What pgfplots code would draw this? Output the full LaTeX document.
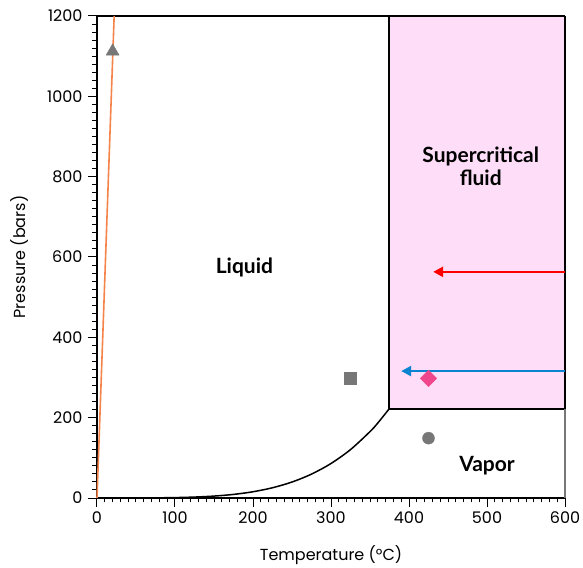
\documentclass[border=0pt]{standalone}
\usepackage{pgfplots}
\pgfplotsset{compat=1.18}
\usepackage{fontspec}
\setmainfont{Lato}
\newfontfamily\tickfont{Poppins}
\usetikzlibrary{arrows.meta}
\definecolor{scpink}{HTML}{FDDDF7}
\definecolor{meltorange}{HTML}{F5844A}
\definecolor{arrred}{HTML}{FF0000}
\definecolor{arrblue}{HTML}{0A84D0}
\definecolor{dpink}{HTML}{F0468C}
\definecolor{mgray}{HTML}{777777}
\begin{document}
\begin{tikzpicture}[x=1pt,y=1pt]
\useasboundingbox (-97,-69) rectangle (486,498);
\begin{axis}[
  at={(0,0)}, anchor=south west,
  scale only axis, width=468pt, height=482pt,
  xmin=0, xmax=600, ymin=0, ymax=1200,
  xtick={0,100,...,600}, ytick={0,200,...,1200},
  minor x tick num=9, minor y tick num=9,
  tick align=outside, tick pos=left,
  major tick length=9pt, minor tick length=4.5pt,
  every tick/.style={black, line width=1pt},
  axis line style={line width=1.3pt},
  axis x line*=bottom, axis y line*=left,
  tick label style={font=\tickfont\fontsize{16}{18}\selectfont},
  xticklabel style={yshift=-1pt},
  yticklabel style={xshift=-2pt},
  label style={font=\tickfont\fontsize{16}{18}\selectfont},
  /pgf/number format/assume math mode=true,
  /pgf/number format/1000 sep={},
  xlabel={Temperature (°C)}, ylabel={Pressure (bars)},
  xlabel style={at={(axis description cs:0.5,-0.118)}, anchor=center},
  ylabel style={at={(axis description cs:-0.1645,0.5)}, anchor=center},
  clip=false,
]
% supercritical region
\addplot[fill=scpink, draw=none] coordinates {(374,221) (600,221) (600,1200) (374,1200)} -- cycle;
\addplot[black, line width=1.8pt] coordinates {(374,1200) (374,221) (600,221)};
% frame top and right
\addplot[black, line width=1.3pt] coordinates {(0,1200) (600,1200)};
\addplot[black, line width=1.6pt] coordinates {(600,1200) (600,221)};
\addplot[mgray, line width=1.3pt] coordinates {(600,221) (600,0)};
% vapor pressure curve
\addplot[black, line width=1.5pt, smooth] coordinates {
(0,0.006) (25,0.032) (50,0.123) (75,0.386) (100,1.013) (125,2.32) (150,4.76)
(175,8.92) (200,15.55) (225,25.5) (250,39.76) (275,59.5) (300,85.9)
(325,120.5) (350,165.3) (360,186.7) (374,220.6)};
% melting line
\addplot[meltorange, line width=1.6pt] coordinates {(0,0) (22,1200)};
% arrows
\addplot[arrred, line width=2.5pt, -{Triangle[length=10pt,width=10pt]}] coordinates {(600,563) (431,563)};
\addplot[arrblue, line width=2.5pt, -{Triangle[length=10pt,width=10pt]}] coordinates {(600,316) (390,316)};
% markers
\addplot[only marks, mark=triangle*, mark size=7.5pt, mgray, mark options={fill=mgray, draw=mgray}] coordinates {(20,1112)};
\addplot[only marks, mark=square*, mark size=6pt, mgray, mark options={fill=mgray, draw=mgray}] coordinates {(325,299)};
\addplot[only marks, mark=square*, mark size=5.8pt, mark options={fill=dpink, draw=dpink, rotate=45}] coordinates {(425,298)};
\addplot[only marks, mark=*, mark size=6pt, mark options={fill=mgray, draw=mgray}] coordinates {(425,149)};
% labels
\node[font=\bfseries\fontsize{21}{24}\selectfont] at (axis cs:189,573) {Liquid};
\node[font=\bfseries\fontsize{21}{23}\selectfont, align=center] at (axis cs:492,826) {Supercritical\\fluid};
\node[font=\bfseries\fontsize{21}{24}\selectfont] at (axis cs:500,80) {Vapor};
\end{axis}
\end{tikzpicture}
\end{document}
